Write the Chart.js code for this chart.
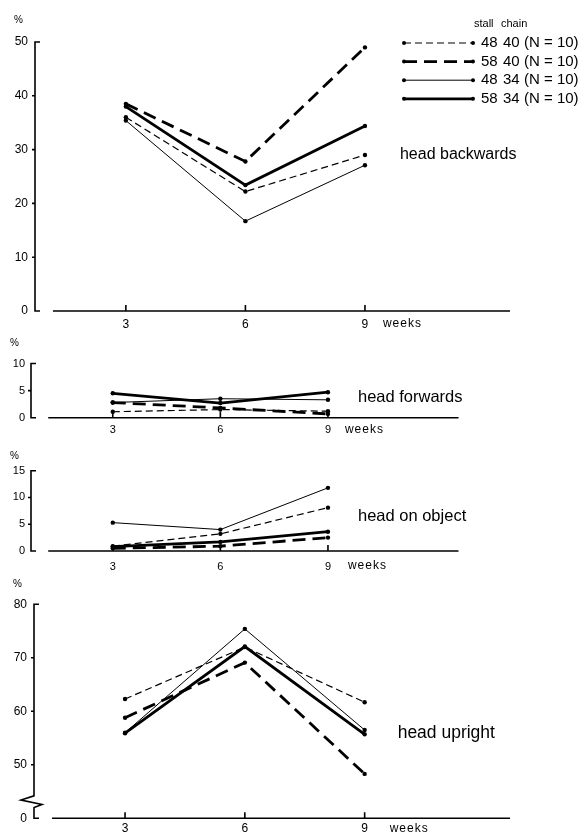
<!DOCTYPE html>
<html>
<head>
<meta charset="utf-8">
<script src="https://cdn.jsdelivr.net/npm/chart.js@4/dist/chart.umd.min.js"></script>
<style>
  html, body { margin: 0; padding: 0; background: #fff; }
  #wrap { position: relative; width: 582px; height: 835px; overflow: hidden; background: #fff; }
  #wrap canvas { position: absolute; left: 0; }
</style>
</head>
<body>
<div id="wrap">
  <canvas id="c1" width="582" height="335" style="top:0px"></canvas>
  <canvas id="c2" width="582" height="105" style="top:335px"></canvas>
  <canvas id="c3" width="582" height="130" style="top:440px"></canvas>
  <canvas id="c4" width="582" height="265" style="top:570px"></canvas>
</div>
<script>
// Age in weeks at which the calves were observed
const weeks = [3, 6, 9];

// Housing groups: stall width and chain length (cm), group size
const stallWidths = ['48', '58', '48', '58'];
const chainLengths = ['40', '40', '34', '34'];
const groupSizes = [10, 10, 10, 10];

// % of lying time with the head backwards
const backwards4840 = [36.0, 22.2, 29.0];
const backwards5840 = [38.5, 27.8, 49.0];
const backwards4834 = [35.4, 16.7, 27.1];
const backwards5834 = [38.0, 23.4, 34.4];

// % head forwards
const forwards4840 = [1.1, 1.5, 1.2];
const forwards5840 = [2.8, 1.8, 0.7];
const forwards4834 = [2.8, 3.5, 3.3];
const forwards5834 = [4.5, 2.7, 4.7];

// % head on object
const object4840 = [0.9, 3.2, 8.1];
const object5840 = [0.5, 0.9, 2.5];
const object4834 = [5.3, 4.0, 11.8];
const object5834 = [0.8, 1.7, 3.6];

// % head upright
const upright4840 = [62.3, 72.0, 61.7];
const upright5840 = [58.8, 69.1, 48.3];
const upright4834 = [56.0, 75.4, 56.5];
const upright5834 = [55.9, 72.1, 55.7];

// y-axis ticks; the upright panel has a broken axis whose lowest tick reads 0
const ticksBackwards = [0, 10, 20, 30, 40, 50];
const ticksForwards = [0, 5, 10];
const ticksObject = [0, 5, 10, 15];
const ticksUpright = [40, 50, 60, 70, 80];
const labelsUpright = ['0', '50', '60', '70', '80'];

const FONT = '"Liberation Sans", Arial, Helvetica, sans-serif';
const INK = '#000';

// thin dashed, thick long-dashed, thin solid, thick solid
const lineStyles = [
  { borderWidth: 1.2, borderDash: [7, 4] },
  { borderWidth: 2.8, borderDash: [13, 7] },
  { borderWidth: 1.0, borderDash: [] },
  { borderWidth: 2.8, borderDash: [] }
];

function toPoints(values) {
  return weeks.map((w, i) => ({ x: w, y: values[i] }));
}

function buildDatasets(seriesList) {
  return seriesList.map((values, i) => ({
    label: stallWidths[i] + ' ' + chainLengths[i],
    data: toPoints(values),
    borderColor: INK,
    backgroundColor: INK,
    borderWidth: lineStyles[i].borderWidth,
    borderDash: lineStyles[i].borderDash,
    pointRadius: 2.2,
    pointBorderWidth: 0,
    pointBackgroundColor: INK,
    tension: 0,
    fill: false,
    clip: 6
  }));
}

// Axes, broken-axis mark, captions and the key are drawn here
const framePlugin = {
  id: 'frame',
  beforeDatasetsDraw(chart, args, o) {
    const { ctx, chartArea: a, scales: { x, y } } = chart;
    ctx.save();
    ctx.strokeStyle = INK;
    ctx.lineWidth = 1.6;
    ctx.lineCap = 'butt';
    ctx.beginPath();
    if (o.broken) {
      const yb = v => y.getPixelForValue(v);
      ctx.moveTo(a.left, a.top);
      ctx.lineTo(a.left, yb(44.2));
      ctx.lineTo(a.left - 13, yb(43.4));
      ctx.lineTo(a.left + 8, yb(42.6));
      ctx.lineTo(a.left, yb(42.0));
      ctx.lineTo(a.left, a.bottom);
    } else {
      ctx.moveTo(a.left, a.top);
      ctx.lineTo(a.left, a.bottom);
    }
    // end ticks point inwards
    ctx.moveTo(a.left - 0.8, a.top);
    ctx.lineTo(a.left + 5, a.top);
    ctx.moveTo(a.left - 0.8, a.bottom);
    ctx.lineTo(a.left + 5, a.bottom);
    // inner ticks point outwards
    y.ticks.forEach(t => {
      if (t.value === y.min || t.value === y.max) return;
      const py = y.getPixelForValue(t.value);
      ctx.moveTo(a.left - 3, py);
      ctx.lineTo(a.left, py);
    });
    ctx.stroke();

    // x axis stands free of the y axis
    ctx.beginPath();
    ctx.moveTo(x.getPixelForValue(o.xStart), a.bottom);
    ctx.lineTo(a.right, a.bottom);
    weeks.forEach(w => {
      const px = x.getPixelForValue(w);
      ctx.moveTo(px, a.bottom);
      ctx.lineTo(px, a.bottom - 6);
    });
    ctx.stroke();
    ctx.restore();
  },
  afterDraw(chart, args, o) {
    const { ctx, chartArea: a, scales: { x, y } } = chart;
    ctx.save();
    ctx.fillStyle = INK;
    ctx.textBaseline = 'middle';
    ctx.textAlign = 'left';

    // unit above the y axis
    ctx.font = '10px ' + FONT;
    ctx.fillText('%', a.left - 21, a.top + o.pctDy);

    // x-axis unit next to the last week
    ctx.font = '12px ' + FONT;
    if ('letterSpacing' in ctx) ctx.letterSpacing = '1px';
    ctx.fillText('weeks', x.getPixelForValue(9) + o.weeksDx, a.bottom + o.weeksDy);
    if ('letterSpacing' in ctx) ctx.letterSpacing = '0px';

    // panel caption
    ctx.font = o.titleSize + 'px ' + FONT;
    ctx.fillText(o.title, x.getPixelForValue(9) + o.titleDx, y.getPixelForValue(o.titleY));

    if (o.key) {
      const x0 = 404, x1 = 473, y0 = 43, dy = 18.6;
      ctx.font = '11px ' + FONT;
      ctx.fillText('stall', 474, 24);
      ctx.fillText('chain', 501, 24);
      chart.data.datasets.forEach((ds, i) => {
        const yy = y0 + i * dy;
        ctx.strokeStyle = INK;
        ctx.lineWidth = ds.borderWidth;
        ctx.setLineDash(ds.borderDash);
        ctx.beginPath();
        ctx.moveTo(x0, yy);
        ctx.lineTo(x1, yy);
        ctx.stroke();
        ctx.setLineDash([]);
        [x0, x1].forEach(px => {
          ctx.beginPath();
          ctx.arc(px, yy, 2, 0, Math.PI * 2);
          ctx.fill();
        });
        ctx.font = '15px ' + FONT;
        ctx.fillText(stallWidths[i], 481, yy);
        ctx.fillText(chainLengths[i], 503, yy);
        ctx.fillText('(N = ' + groupSizes[i] + ')', 524, yy);
      });
    }
    ctx.restore();
  }
};

const panels = [
  {
    canvas: 'c1', series: [backwards4840, backwards5840, backwards4834, backwards5834],
    yMin: 0, yMax: 50, yTicks: ticksBackwards, yLabels: null,
    padding: { top: 42, right: 72, left: 0, bottom: 0 }, yWidth: 35, xHeight: 24,
    tickSize: 12, xPad: 6, yPad: 7,
    frame: { xStart: 1.17, pctDy: -22, weeksDx: 18, weeksDy: 13, title: 'head backwards', titleSize: 16, titleDx: 35, titleY: 29, key: true, broken: false }
  },
  {
    canvas: 'c2', series: [forwards4840, forwards5840, forwards4834, forwards5834],
    yMin: 0, yMax: 10, yTicks: ticksForwards, yLabels: null,
    padding: { top: 28.5, right: 123.5, left: 0, bottom: 0 }, yWidth: 31, xHeight: 22.3,
    tickSize: 11, xPad: 6, yPad: 6,
    frame: { xStart: 1.2, pctDy: -20, weeksDx: 17, weeksDy: 12, title: 'head forwards', titleSize: 16.5, titleDx: 30, titleY: 3.8, key: false, broken: false }
  },
  {
    canvas: 'c3', series: [object4840, object5840, object4834, object5834],
    yMin: 0, yMax: 15, yTicks: ticksObject, yLabels: null,
    padding: { top: 30.7, right: 123.5, left: 0, bottom: 0 }, yWidth: 31, xHeight: 19,
    tickSize: 11, xPad: 9, yPad: 6,
    frame: { xStart: 1.2, pctDy: -14, weeksDx: 20, weeksDy: 15, title: 'head on object', titleSize: 16.5, titleDx: 30, titleY: 6.4, key: false, broken: false }
  },
  {
    canvas: 'c4', series: [upright4840, upright5840, upright4834, upright5834],
    yMin: 40, yMax: 80, yTicks: ticksUpright, yLabels: labelsUpright,
    padding: { top: 34.3, right: 72, left: 0, bottom: 0 }, yWidth: 34, xHeight: 16.7,
    tickSize: 12, xPad: 3, yPad: 7,
    frame: { xStart: 1.17, pctDy: -20, weeksDx: 25, weeksDy: 10, title: 'head upright', titleSize: 17.5, titleDx: 33, titleY: 56, key: false, broken: true }
  }
];

panels.forEach(p => {
  new Chart(document.getElementById(p.canvas), {
    type: 'line',
    data: { datasets: buildDatasets(p.series) },
    options: {
      responsive: false,
      devicePixelRatio: 1,
      animation: false,
      events: [],
      layout: { padding: p.padding },
      plugins: {
        legend: { display: false },
        tooltip: { enabled: false },
        frame: p.frame
      },
      scales: {
        x: {
          type: 'linear',
          min: 0.72,
          max: 12.64,
          grid: { display: false, drawTicks: false },
          border: { display: false },
          afterBuildTicks: s => { s.ticks = weeks.map(v => ({ value: v })); },
          afterFit: s => { s.height = p.xHeight; },
          ticks: { color: INK, padding: p.xPad, font: { family: FONT, size: p.tickSize }, maxRotation: 0 }
        },
        y: {
          type: 'linear',
          min: p.yMin,
          max: p.yMax,
          grid: { display: false, drawTicks: false },
          border: { display: false },
          afterBuildTicks: s => { s.ticks = p.yTicks.map(v => ({ value: v })); },
          afterFit: s => { s.width = p.yWidth; },
          ticks: {
            color: INK,
            padding: p.yPad,
            font: { family: FONT, size: p.tickSize },
            callback: (v, i) => p.yLabels ? p.yLabels[i] : String(v)
          }
        }
      }
    },
    plugins: [framePlugin]
  });
});
</script>
</body>
</html>
